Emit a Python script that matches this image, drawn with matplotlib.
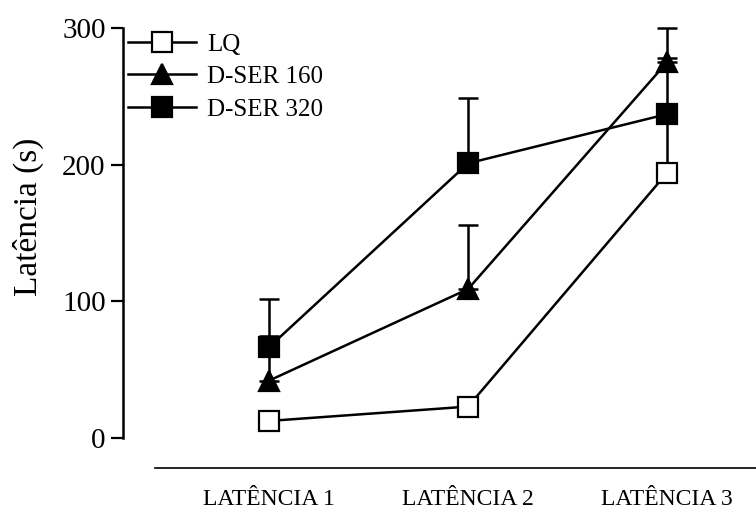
import numpy as np
import matplotlib.pyplot as plt

plt.rcParams['font.family'] = ['Liberation Serif', 'DejaVu Serif']

groups = ["LATÊNCIA 1", "LATÊNCIA 2", "LATÊNCIA 3"]
lq = [12.5, 23, 194]
lq_err = [0, 0, 45]
ser160 = [42, 109, 275]
ser160_err = [33, 47, 25]
ser320 = [66.5, 201, 237]
ser320_err = [35, 48, 41]

x = np.arange(1, len(groups) + 1)

fig = plt.figure(figsize=(7.56, 5.12), dpi=100)
ax = fig.add_axes([0.1627, 0.1445, 0.8373, 0.8008])

# error bars (upper only), then lines with markers on top
ekw = dict(fmt='none', ecolor='black', elinewidth=1.8, capsize=7.5, capthick=1.8, clip_on=False)
ax.errorbar(x, ser320, yerr=[np.zeros(3), ser320_err], zorder=2, **ekw)
ax.errorbar(x, ser160, yerr=[np.zeros(3), ser160_err], zorder=2, **ekw)
ax.errorbar(x, lq, yerr=[np.zeros(3), lq_err], zorder=2, **ekw)

lkw = dict(color='black', lw=1.8, markersize=14, markeredgewidth=1.6, clip_on=False)
l3, = ax.plot(x, ser320, marker='s', mfc='black', mec='black', label='D-SER 320', zorder=3, **lkw)
l2, = ax.plot(x, ser160, marker='^', mfc='black', mec='black', label='D-SER 160', zorder=4, **lkw)
l1, = ax.plot(x, lq, marker='s', mfc='white', mec='black', label='LQ', zorder=5, **lkw)

ax.set_xlim(0.266, 3.447)
ax.set_ylim(0, 300)
ax.set_yticks([0, 100, 200, 300])
ax.set_xticks(x)
ax.set_xticklabels(groups)
ax.tick_params(axis='y', labelsize=21, length=9, width=1.6, direction='out')
ax.tick_params(axis='x', labelsize=17, length=0, pad=15)
ax.set_ylabel('Latência (s)', fontsize=24)
ax.yaxis.set_label_coords(-0.125, 0.539)

for s in ['top', 'right']:
    ax.spines[s].set_visible(False)
ax.spines['left'].set_linewidth(1.8)
ax.spines['left'].set_bounds(0, 300)
ax.spines['bottom'].set_position(('outward', 21.6))
ax.spines['bottom'].set_bounds(0.427, 3.447)
ax.spines['bottom'].set_linewidth(1.2)

ax.legend([l1, l2, l3], ['LQ', 'D-SER 160', 'D-SER 320'], loc='upper left',
          bbox_to_anchor=(0.0, 1.0), frameon=False, fontsize=18, handlelength=2.7,
          handletextpad=0.45, labelspacing=0.4, borderaxespad=0.0, borderpad=0.2)

fig.savefig('out.png', dpi=100)
